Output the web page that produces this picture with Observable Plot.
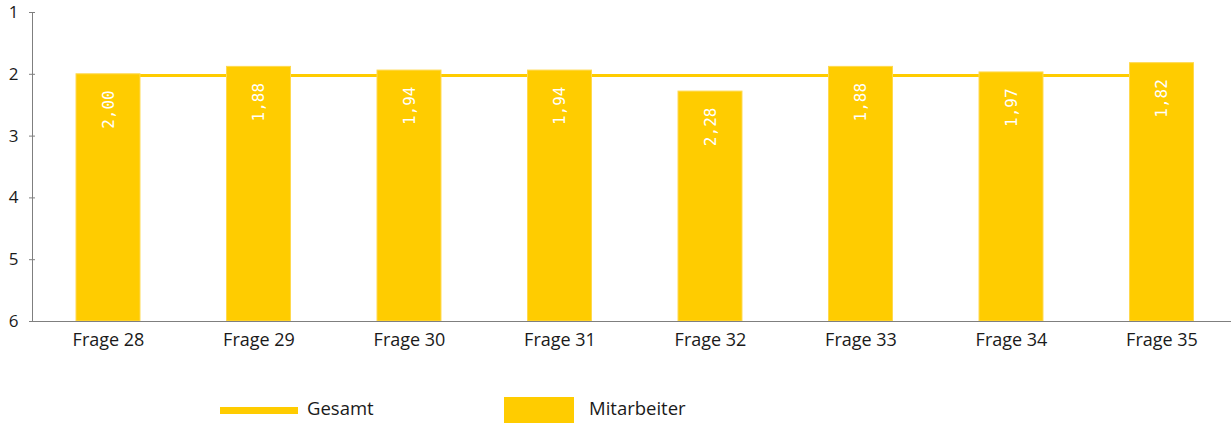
<!DOCTYPE html>
<html>
<head>
<meta charset="utf-8">
<script src="https://cdn.jsdelivr.net/npm/d3@7"></script>
<script src="https://cdn.jsdelivr.net/npm/@observablehq/plot@0.6"></script>
<style>
  html, body { margin: 0; padding: 0; background: #fff; }
  #wrap { position: relative; width: 1231px; height: 423px; overflow: hidden; font-family: "Open Sans", sans-serif; }
  #chart { position: absolute; left: 0; top: 0; }
  .leg { position: absolute; font-size: 18.5px; color: #1a1a1a; line-height: 1; }
</style>
</head>
<body>
<div id="wrap">
  <div id="chart"></div>
  <div class="leg" style="left:220px; top:407px; width:78px; height:7px; background:#FFCC00;"></div>
  <div class="leg" style="left:307px; top:399px;">Gesamt</div>
  <div class="leg" style="left:504px; top:397px; width:70px; height:26px; background:#FFCC00;"></div>
  <div class="leg" style="left:589px; top:399px;">Mitarbeiter</div>
</div>
<script>
const categories = ["Frage 28", "Frage 29", "Frage 30", "Frage 31", "Frage 32", "Frage 33", "Frage 34", "Frage 35"];
const mitarbeiter = [2.00, 1.88, 1.94, 1.94, 2.28, 1.88, 1.97, 1.82];
const gesamt = [2.02, 2.02, 2.02, 2.02, 2.02, 2.02, 2.02, 2.02];
const yTicks = [1, 2, 3, 4, 5, 6];

const rows = categories.map((c, i) => ({cat: c, m: mitarbeiter[i], g: gesamt[i], label: mitarbeiter[i].toFixed(2).replace(".", ",")}));
const yellow = "#FFCC00";

const plot = Plot.plot({
  width: 1231,
  height: 390,
  marginLeft: 32,
  marginRight: 0,
  marginTop: 12,
  marginBottom: 69,
  style: {fontFamily: "Open Sans, sans-serif", color: "#1a1a1a", overflow: "visible"},
  x: {domain: categories, range: [32.75, 1236.75], paddingInner: 0.575, paddingOuter: 0.2875, round: false, label: null},
  y: {domain: [1, 6], range: [12, 321], label: null},
  marks: [
    Plot.line(rows, {x: "cat", y: "g", stroke: yellow, strokeWidth: 3}),
    Plot.barY(rows, {x: "cat", y1: 6, y2: "m", fill: yellow, stroke: "#FFD94D", strokeWidth: 1}),
    Plot.text(rows, {x: "cat", y: "m", text: "label", rotate: -90, textAnchor: "end", lineAnchor: "middle", dy: 16, fill: "white", fontSize: 16, fontFamily: "DejaVu Sans Mono, monospace"}),
    Plot.frame({anchor: "left", stroke: "#7f7f7f"}),
    Plot.frame({anchor: "bottom", stroke: "#7f7f7f"}),
    Plot.axisY(yTicks, {anchor: "left", tickSize: 6, dx: 3, tickPadding: 11, tickFormat: d => String(d), fontSize: 17, stroke: "#7f7f7f", label: null}),
    Plot.axisX({anchor: "bottom", tickSize: 0, tickPadding: 12, fontSize: 18, label: null})
  ]
});
document.getElementById("chart").appendChild(plot);
</script>
</body>
</html>
